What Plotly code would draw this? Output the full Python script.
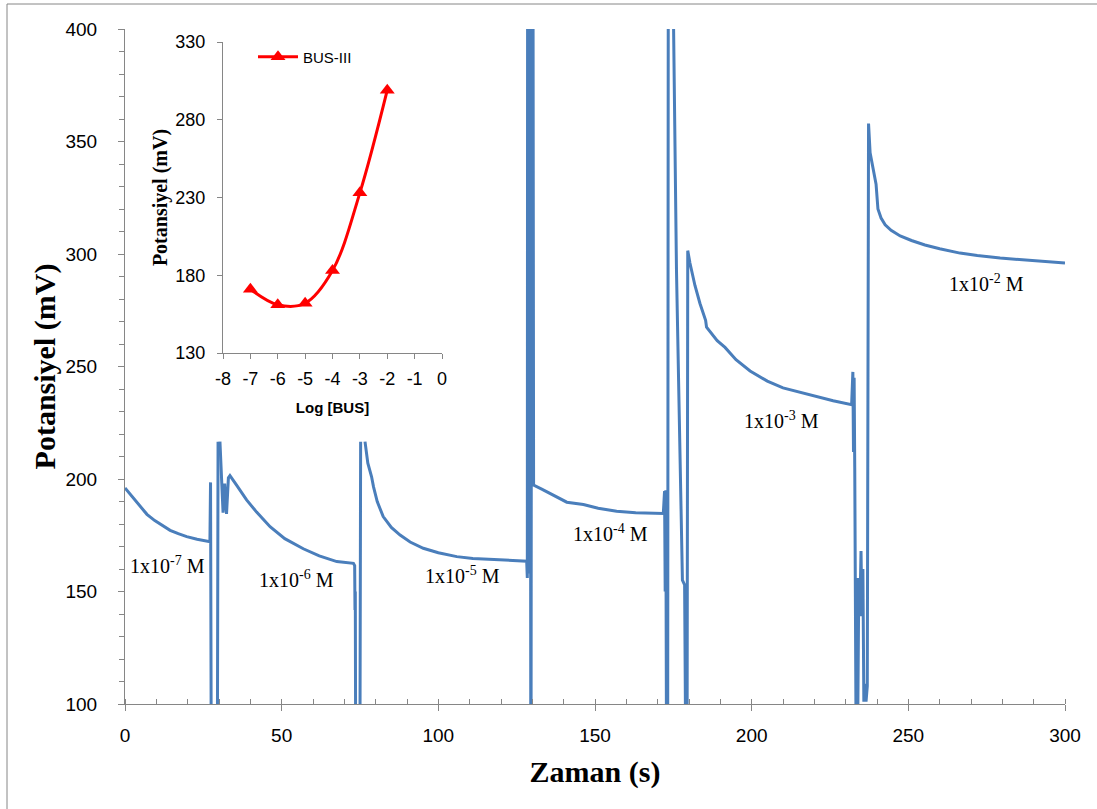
import plotly.graph_objects as go

# ---------------- main chart data (time in s, potential in mV) ----------------
# None marks places where the trace runs under the pasted inset picture (hidden)
time_s = (
    [0, 1.5, 3, 4.8, 7, 9.5, 12, 14.4, 17, 19.7, 23, 27.1]
    + [27.3, 27.5, 29.5, 29.7, None]
    + [30.3, 31.3, 31.8, 32.4, 33.0, 33.5, 35.5, 38.8, 42, 46.3, 51, 56.9, 62, 67.6,
       72.9, 73.3, 73.4, 73.5, 73.6, 75.0, 75.2, None]
    + [76.6, 77.5, 78.7, 79.3, 80.5, 82.4, 85, 87.8, 91, 95.2, 100, 105.9, 111,
       116.5, 122, 127.7]
    + [128.2, 128.4, 128.5, 128.7, 128.9, 129.1, 129.3, 129.5, 129.6, 129.8, 130.0,
       130.2, 130.4]
    + [133, 137, 141, 146.3, 151, 156.9, 163, 171.8]
    + [172.2, 172.4, 172.6, 172.8, 173.2, 173.4, 174.7, 176.0, 177.1, 177.3, 177.6,
       177.9, 178.6, 178.9, 179.4]
    + [179.6, 180.3, 181.9, 183.5, 184.6, 185.3, 185.6, 186.7, 189, 191.5, 195, 199.5,
       205, 210, 215.4, 220, 226, 231.9]
    + [232.3, 232.5, 232.7, 232.9, 233.3, 233.6, 233.9, 234.2, 234.5, 234.9, 235.2,
       235.5, 235.8, 236.2, 236.5, 236.9]
    + [237.3, 237.8, 238.7, 239.7, 240.3, 241.3, 242.6, 244.5, 247.4, 251, 255.3, 260,
       266.5, 272, 279.3, 290, 300]
)
potential_mv = (
    [196.0, 193.5, 190.5, 187.7, 184.3, 181.5, 179.2, 177.2, 175.7, 174.4, 173.2, 172.1]
    + [198.5, 90, 90, 216.6, None]
    + [216.6, 185, 198, 184.5, 200.5, 201.5, 197.5, 190.7, 185.3, 178.8, 173.5, 169,
       165.8, 163.3, 162.5, 161.5, 141.8, 150, 90, 90, 216.6, None]
    + [216.6, 207, 201, 196.6, 190, 183.3, 178.5, 175.1, 172, 169.2, 167.2, 165.5, 164.7,
       164.3, 163.9, 163.7]
    + [163.5, 156, 450, 160, 450, 158, 450, 90, 90, 450, 200, 450, 197.3]
    + [195.5, 192.5, 189.7, 188.7, 187, 185.7, 185.0, 184.7]
    + [194.6, 150, 195, 90, 90, 445, 445, 293, 206.7, 200, 178, 155, 153, 90, 90]
    + [301.5, 296, 286, 278, 273, 270.5, 267.5, 265.5, 261.5, 258.5, 253, 248,
       243.5, 240.5, 238.5, 236.8, 234.8, 233]
    + [247.6, 212, 245, 205, 90, 156, 100, 156, 139, 168, 139, 160, 101, 109, 101, 108]
    + [358, 345, 338, 331, 320, 316, 313, 310.5, 308, 306, 304, 302.3, 300.4, 299.3,
       298.2, 297, 296]
)

# concentration labels
label_text = ["1x10<sup>-7</sup> M", "1x10<sup>-6</sup> M", "1x10<sup>-5</sup> M",
              "1x10<sup>-4</sup> M", "1x10<sup>-3</sup> M", "1x10<sup>-2</sup> M"]
label_t = [13.7, 54.6, 107.6, 155.1, 209.4, 275.1]
label_v = [161.8, 155.6, 157.3, 176.0, 226.2, 287.3]

# ---------------- inset data ----------------
log_bus = [-7, -6, -5, -4, -3, -2]
inset_mv = [171, 161, 162, 183, 233, 299]
inset_x_ticks = [-8, -7, -6, -5, -4, -3, -2, -1, 0]
inset_x_labels = ["-8", "-7", "-6", "-5", "-4", "-3", "-2", "-1", "0"]
inset_y_ticks = [130, 180, 230, 280, 330]

W, H = 1097, 809
ML, MR, MT, MB = 125, 32, 29, 105
PW, PH = W - ML - MR, H - MT - MB


def px_x(p):
    return (p - ML) / PW


def px_y(p):
    return (H - MB - p) / PH


AX = "#868686"
BLUE = "#4A7EBB"
RED = "#FF0000"
SERIF = "Liberation Serif, Times New Roman, serif"
SANS = "Liberation Sans, Arial, sans-serif"

fig = go.Figure()
fig.add_trace(go.Scatter(
    x=time_s, y=potential_mv, mode="lines",
    line=dict(color=BLUE, width=3), showlegend=False,
    xaxis="x", yaxis="y", connectgaps=False,
))
fig.add_trace(go.Scatter(
    x=log_bus, y=inset_mv, mode="lines+markers", name="BUS-III",
    line=dict(color=RED, width=3, shape="spline", smoothing=1.0),
    marker=dict(symbol="triangle-up", size=13, color=RED),
    xaxis="x2", yaxis="y2",
))

tick_font = dict(family=SANS, size=19, color="#000000")
inset_tick_font = dict(family=SANS, size=18, color="#000000")

for t, x, y in zip(label_text, label_t, label_v):
    fig.add_annotation(x=x, y=y, xref="x", yref="y", text=t, showarrow=False,
                       font=dict(family=SERIF, size=20, color="#000000"))

fig.update_layout(
    width=W, height=H,
    margin=dict(l=ML, r=MR, t=MT, b=MB, pad=0),
    paper_bgcolor="white", plot_bgcolor="white",
    xaxis=dict(
        domain=[0, 1], range=[0, 300], tick0=0, dtick=50,
        showline=True, linecolor=AX, linewidth=1,
        ticks="outside", ticklen=6, tickcolor=AX, tickwidth=1,
        minor=dict(dtick=10, ticks="inside", ticklen=5, tickcolor=AX, tickwidth=1),
        showgrid=False, zeroline=False, tickfont=tick_font, ticklabelstandoff=8,
        title=dict(text="<b>Zaman (s)</b>", standoff=16,
                   font=dict(family=SERIF, size=30, color="#000000")),
    ),
    yaxis=dict(
        domain=[0, 1], range=[100, 400], tick0=100, dtick=50,
        showline=True, linecolor=AX, linewidth=1,
        ticks="outside", ticklen=6, tickcolor=AX, tickwidth=1,
        minor=dict(dtick=10, ticks="outside", ticklen=5, tickcolor=AX, tickwidth=1),
        showgrid=False, zeroline=False, tickfont=tick_font, ticklabelstandoff=17,
        title=dict(text="<b>Potansiyel (mV)</b>", standoff=0,
                   font=dict(family=SERIF, size=30, color="#000000")),
    ),
    xaxis2=dict(
        domain=[px_x(223), px_x(442)], anchor="y2", range=[-8, 0],
        tickvals=inset_x_ticks, ticktext=inset_x_labels,
        showline=True, linecolor=AX, linewidth=1,
        ticks="outside", ticklen=5, tickcolor=AX,
        showgrid=False, zeroline=False, tickfont=inset_tick_font, ticklabelstandoff=4,
        title=dict(text="<b>Log [BUS]</b>", standoff=14,
                   font=dict(family=SANS, size=15, color="#000000")),
    ),
    yaxis2=dict(
        domain=[px_y(353), px_y(42)], anchor="x2", range=[130, 330],
        tickvals=inset_y_ticks,
        showline=True, linecolor=AX, linewidth=1,
        ticks="outside", ticklen=5, tickcolor=AX,
        showgrid=False, zeroline=False, tickfont=inset_tick_font, ticklabelstandoff=8,
        title=dict(text="<b>Potansiyel (mV)</b>", standoff=2,
                   font=dict(family=SERIF, size=20, color="#000000")),
    ),
    legend=dict(
        x=px_x(253), y=px_y(57), xanchor="left", yanchor="middle",
        bgcolor="rgba(0,0,0,0)", borderwidth=0,
        font=dict(family=SANS, size=15, color="#000000"),
        itemwidth=40,
    ),
    shapes=[
        dict(type="line", xref="paper", yref="paper",
             x0=px_x(7), x1=px_x(7), y0=px_y(4), y1=px_y(809),
             line=dict(color=AX, width=1)),
        dict(type="line", xref="paper", yref="paper",
             x0=px_x(7), x1=px_x(1097), y0=px_y(4), y1=px_y(4),
             line=dict(color=AX, width=1)),
    ],
)

fig.write_html("out.html")
